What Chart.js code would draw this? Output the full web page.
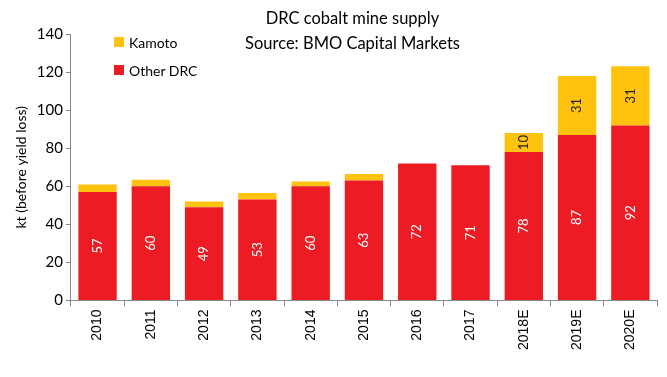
<!DOCTYPE html>
<html>
<head>
<meta charset="utf-8">
<script src="https://cdn.jsdelivr.net/npm/chart.js@4"></script>
<style>
	body { margin: 0; background: #fff; }
	.wrap { position: relative; width: 667px; height: 377px; }
	.title { position: absolute; left: 200px; width: 305px; top: 6px; text-align: center; font: 16.5px Lato, sans-serif; line-height: 25px; color: #000; }
	.legend { position: absolute; left: 114px; top: 28px; font: 14px Lato, sans-serif; color: #000; }
	.legend div { height: 28px; display: flex; align-items: center; }
	.legend span { display: inline-block; width: 10px; height: 10px; margin-right: 5px; }
</style>
</head>
<body>
<div class="wrap">
	<canvas id="cobalt-chart" width="667" height="377"></canvas>
	<div class="title">DRC cobalt mine supply<br>Source: BMO Capital Markets</div>
	<div class="legend" id="legend"></div>
</div>
<script>
const years = ['2010', '2011', '2012', '2013', '2014', '2015', '2016', '2017', '2018E', '2019E', '2020E']
const otherDrc = [57, 60, 49, 53, 60, 63, 72, 71, 78, 87, 92]
const kamoto = [4, 3.5, 3, 3.5, 2.5, 3.5, 0, 0, 10, 31, 31]
const yTicks = [0, 20, 40, 60, 80, 100, 120, 140]

const RED = '#ED1C24'
const YELLOW = '#FFC20E'

;(function () {
	// legend, Kamoto on top like the picture
	const legend = document.getElementById('legend')
	legend.innerHTML = `<div><span style="background:${YELLOW}"></span>Kamoto</div>` +
		`<div><span style="background:${RED}"></span>Other DRC</div>`

	// values written inside the bars, turned on their side
	const barLabels = {
		id: 'barLabels',
		afterDatasetsDraw(chart) {
			const ctx = chart.ctx
			chart.data.datasets.forEach((ds, i) => {
				const meta = chart.getDatasetMeta(i)
				meta.data.forEach((bar, j) => {
					const v = ds.data[j]
					if (v < 9) return
					const mid = (bar.y + bar.base) / 2
					ctx.save()
					ctx.translate(bar.x, mid)
					ctx.rotate(-Math.PI / 2)
					ctx.fillStyle = i === 0 ? '#fff' : '#222'
					ctx.font = '13px Lato, sans-serif'
					ctx.textAlign = 'center'
					ctx.textBaseline = 'middle'
					ctx.fillText(String(Math.round(v)), 0, 0)
					ctx.restore()
				})
			})
		}
	}

	const ctx = document.getElementById('cobalt-chart')
	new Chart(ctx, {
		type: 'bar',
		data: {
			labels: years,
			datasets: [
				{ label: 'Other DRC', data: otherDrc, backgroundColor: RED },
				{ label: 'Kamoto', data: kamoto, backgroundColor: YELLOW },
			],
		},
		options: {
			responsive: false,
			animation: false,
			layout: { padding: { top: 34, right: 10, bottom: 24, left: 9 } },
			datasets: { bar: { categoryPercentage: 1, barPercentage: 0.72 } },
			plugins: {
				legend: { display: false },
				tooltip: { enabled: false },
			},
			scales: {
				x: {
					stacked: true,
					border: { color: '#888' },
					grid: { offset: true, drawOnChartArea: false, tickLength: 6, color: '#888' },
					ticks: { minRotation: 90, maxRotation: 90, color: '#000', font: { family: 'Liberation Sans', size: 14 }, padding: 3 },
				},
				y: {
					stacked: true,
					min: 0,
					max: 140,
					afterBuildTicks(axis) { axis.ticks = yTicks.map(v => ({ value: v })) },
					border: { color: '#888' },
					grid: { drawOnChartArea: false, tickLength: 5, color: '#888' },
					ticks: { color: '#000', font: { family: 'Lato', size: 15 }, padding: 3 },
					title: { display: true, text: 'kt (before yield loss)', color: '#000', font: { family: 'Lato', size: 14 }, padding: 4 },
				},
			},
		},
		plugins: [barLabels],
	})
})()
</script>
</body>
</html>
